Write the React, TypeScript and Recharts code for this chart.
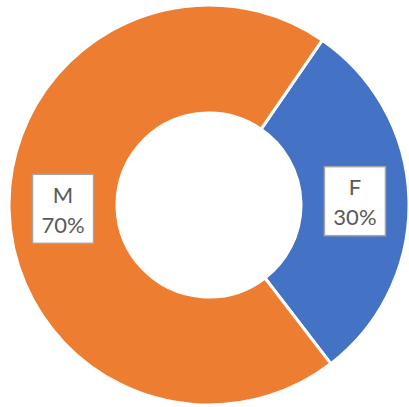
import React from "react";
import { PieChart, Pie, Cell } from "recharts";

const categories = ["F", "M"];
const values = [30, 70];
const colors = ["#4472C4", "#ED7D31"];

const data = categories.map((name, i) => ({ name, value: values[i] }));

const RADIAN = Math.PI / 180;

const renderLabel = (props: any) => {
  const { cx, cy, midAngle, innerRadius, outerRadius, percent, name } = props;
  const r = (innerRadius + outerRadius) / 2;
  const x = cx + r * Math.cos(-midAngle * RADIAN);
  const y = cy + r * Math.sin(-midAngle * RADIAN);
  const w = 61;
  const h = 69;
  return (
    <g>
      <rect
        x={x - w / 2}
        y={y - h / 2}
        width={w}
        height={h}
        fill="#fff"
        stroke="#a6a6a6"
        strokeWidth={1.5}
      />
      <text
        x={x}
        y={y - 6}
        textAnchor="middle"
        fill="#595959"
        fontSize={22}
        fontFamily="Lato, 'Open Sans', sans-serif"
      >
        {name}
      </text>
      <text
        x={x}
        y={y + 24}
        textAnchor="middle"
        fill="#595959"
        fontSize={22}
        fontFamily="Lato, 'Open Sans', sans-serif"
      >
        {`${Math.round(percent * 100)}%`}
      </text>
    </g>
  );
};

const App: React.FC = () => {
  return (
    <div style={{ position: "absolute", left: 0, top: 0, background: "#fff" }}>
      <PieChart width={409} height={407} margin={{ top: 0, right: 0, bottom: 0, left: 0 }}>
        <Pie
          data={data}
          dataKey="value"
          nameKey="name"
          cx={209}
          cy={205}
          innerRadius={92}
          outerRadius={200}
          startAngle={55.5}
          endAngle={-304.5}
          stroke="#fff"
          strokeWidth={3}
          label={renderLabel}
          labelLine={false}
          isAnimationActive={false}
        >
          {data.map((d, i) => (
            <Cell key={d.name} fill={colors[i]} />
          ))}
        </Pie>
      </PieChart>
    </div>
  );
};

export default App;
